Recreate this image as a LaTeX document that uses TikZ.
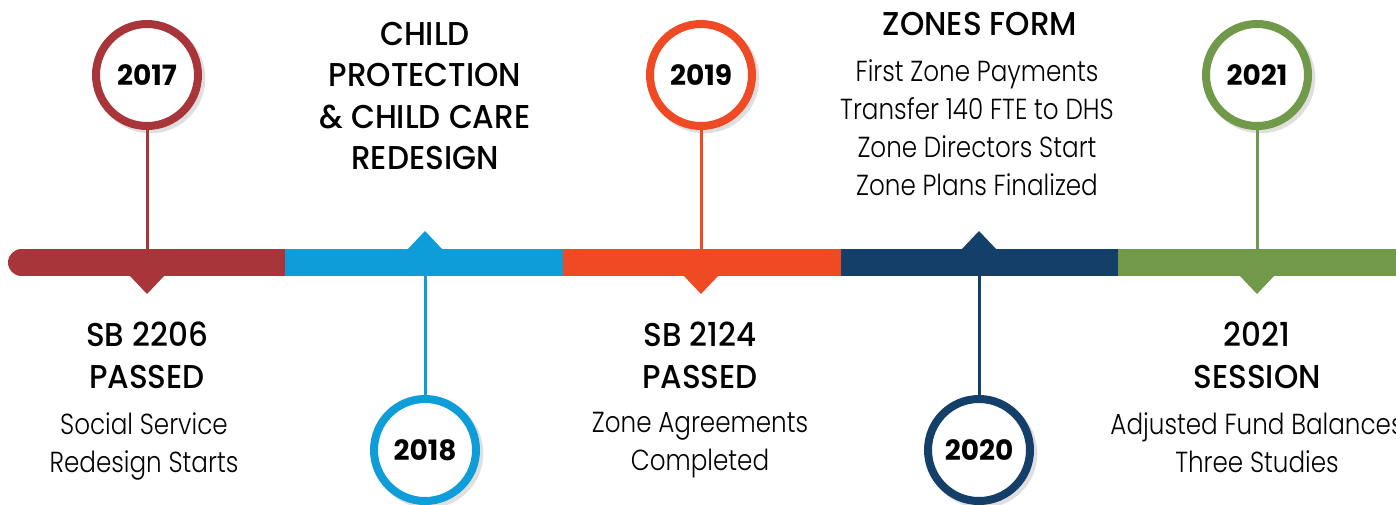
\documentclass[tikz,border=0pt]{standalone}
\usepackage{fontspec}
\setmainfont{Poppins}
\newfontfamily\lightfont[FakeStretch=0.85]{Poppins Light}
\newfontfamily\medfont[FakeStretch=0.94]{Poppins Medium}
\newfontfamily\boldfont{Poppins Bold}
\usetikzlibrary{shadows}
\definecolor{tlred}{HTML}{A8353A}
\definecolor{tlblue}{HTML}{0E9DD9}
\definecolor{tlorange}{HTML}{EE4B25}
\definecolor{tlnavy}{HTML}{133F69}
\definecolor{tlgreen}{HTML}{70994A}

\begin{document}
\begin{tikzpicture}[x=1pt, y=-1pt,
    year/.style={circle, draw=#1, line width=8pt, fill=white, minimum size=102pt, inner sep=0pt,
      font=\boldfont\fontsize{28}{28}\selectfont,
      drop shadow={shadow xshift=3pt, shadow yshift=-3pt, shadow scale=1.08, opacity=0.25}},
    head/.style={anchor=north, align=center, inner sep=0pt, font=\medfont\fontsize{33}{41.5}\selectfont},
    note/.style={anchor=north, align=center, inner sep=0pt, font=\lightfont\fontsize{29}{38}\selectfont},
    stem/.style={draw=#1, line width=3pt}]
  \useasboundingbox (0,0) rectangle (1396,504);
  % timeline bar
  \fill[tlred] (21.5,262.5) circle (13.5);
  \fill[tlred] (21.5,249) rectangle (285,276);
  \fill[tlblue] (285,249) rectangle (563,276);
  \fill[tlorange] (563,249) rectangle (841,276);
  \fill[tlnavy] (841,249) rectangle (1118,276);
  \fill[tlgreen] (1118,249) rectangle (1396,276);
  % markers on the bar
  \fill[tlred] (129,275) -- (147,294) -- (165,275) -- cycle;
  \fill[tlblue] (407,250) -- (425,231) -- (443,250) -- cycle;
  \fill[tlorange] (683,275) -- (701,294) -- (719,275) -- cycle;
  \fill[tlnavy] (961,250) -- (979,231) -- (997,250) -- cycle;
  \fill[tlgreen] (1239,275) -- (1257,294) -- (1275,275) -- cycle;
  \coordinate (b2017) at (147,249);
  \coordinate (b2018) at (425,276);
  \coordinate (b2019) at (701,249);
  \coordinate (b2020) at (979,276);
  \coordinate (b2021) at (1257,249);
  % year circles
  \node[year=tlred] (y2017) at (147,75) {2017};
  \node[year=tlblue] (y2018) at (425,450) {2018};
  \node[year=tlorange] (y2019) at (701,75) {2019};
  \node[year=tlnavy] (y2020) at (979,450) {2020};
  \node[year=tlgreen] (y2021) at (1257,75) {2021};
  \draw[stem=tlred] (y2017) -- (b2017);
  \draw[stem=tlblue] (y2018) -- (b2018);
  \draw[stem=tlorange] (y2019) -- (b2019);
  \draw[stem=tlnavy] (y2020) -- (b2020);
  \draw[stem=tlgreen] (y2021) -- (b2021);
  % events
  \node[head] (h2017) at (147,322) {SB 2206\\PASSED};
  \node[note] (n2017) at (144,412) {Social Service\\Redesign Starts};
  \node[head] (h2018) at (425,22) {CHILD\\PROTECTION\\\& CHILD CARE\\REDESIGN};
  \node[head] (h2019) at (700,322) {SB 2124\\PASSED};
  \node[note] (n2019) at (700,412) {Zone Agreements\\Completed};
  \node[head] (h2020) at (980,12) {ZONES FORM};
  \node[note] (n2020) at (977,59) {First Zone Payments\\Transfer 140 FTE to DHS\\Zone Directors Start\\Zone Plans Finalized};
  \node[head] (h2021) at (1257,322) {2021\\SESSION};
  \node[note] (n2021) at (1257,412) {Adjusted Fund Balances\\Three Studies};
\end{tikzpicture}
\end{document}
